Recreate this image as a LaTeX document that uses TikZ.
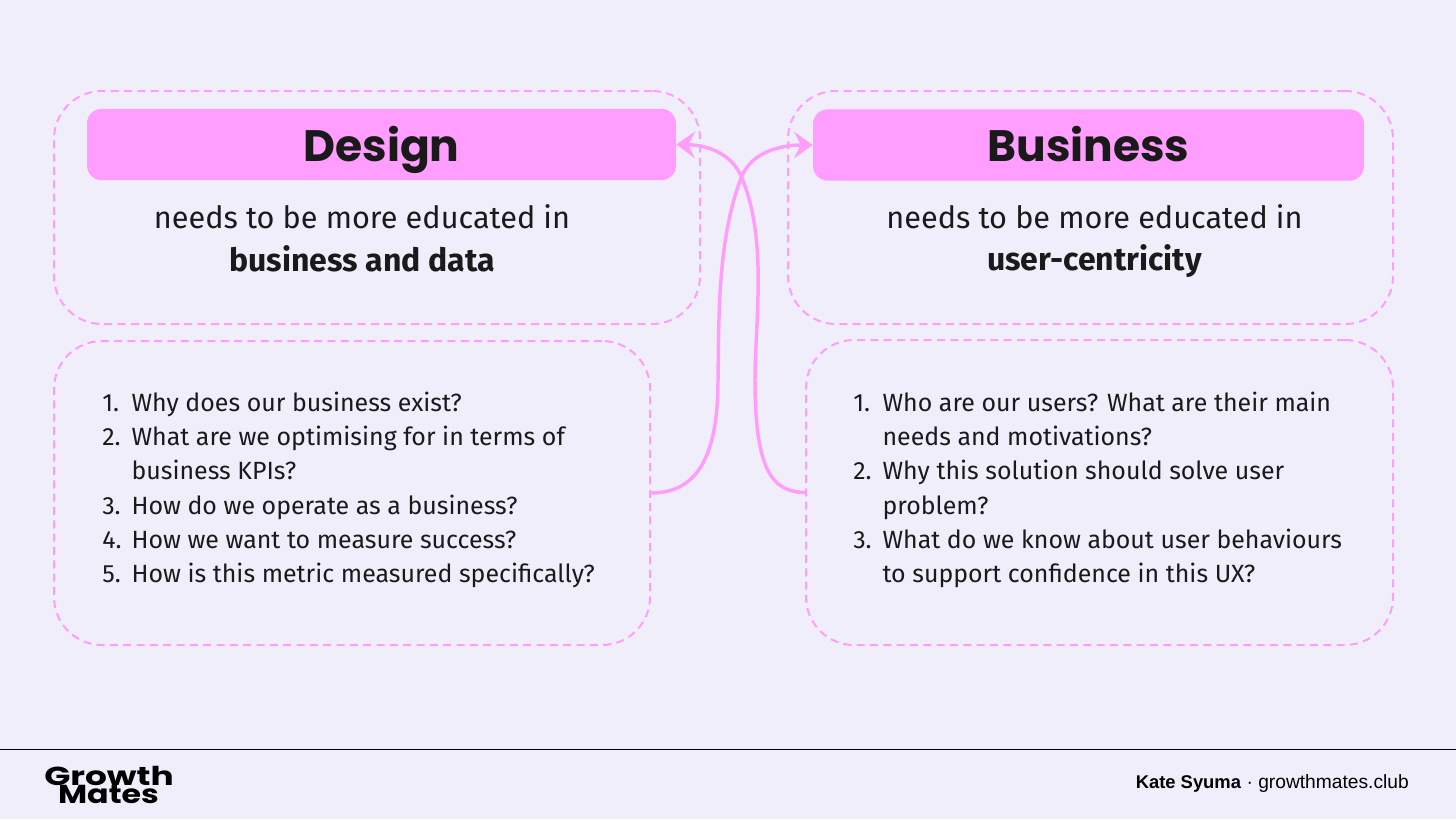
\documentclass[tikz,border=0pt]{standalone}
\usepackage{fontspec}
\setmainfont{Fira Sans}
\newfontfamily\headfont{Poppins}
\newfontfamily\footfont{Liberation Sans}
\usetikzlibrary{arrows.meta,positioning}
\definecolor{paper}{HTML}{F1EEFC}
\definecolor{pinkfill}{HTML}{FF9EFF}
\definecolor{pinkline}{HTML}{FF9EFA}
\definecolor{inkdark}{HTML}{1A1A1A}
\newcommand{\pxfont}[2]{\fontsize{#1}{#2}\selectfont}
\newcommand{\qitem}[1]{\makebox[22pt][l]{#1}}
\newcommand{\qcont}{\hspace{22pt}}
\begin{document}
\begin{tikzpicture}[x=0.75pt,y=-0.75pt,>=Stealth,
 dashbox/.style={draw=pinkline,line width=1.5pt,dash pattern=on 6pt off 4pt,
 rounded corners=36pt,inner sep=0pt},
 head/.style={fill=pinkfill,rounded corners=11pt,inner sep=0pt,minimum height=53.5pt,
 text height=30pt,text depth=5pt,text=inkdark,font=\headfont\bfseries\pxfont{33}{40}},
 edu/.style={align=center,text=inkdark,font=\pxfont{23}{32}},
 qlist/.style={align=left,anchor=north west,inner sep=0pt,text=inkdark,font=\pxfont{18.7}{25.6}},
 logo/.style={text=black,inner sep=0pt,font=\headfont\bfseries\pxfont{19.5}{20}},
 link/.style={draw=pinkline,line width=2.6pt,
 -{Stealth[length=14pt,width=20pt,inset=5pt,fill=pinkline]}}]
\useasboundingbox (0,0) rectangle (1456,819);
\fill[paper] (0,0) rectangle (1456,819);
\node[dashbox,minimum width=484.5pt,minimum height=174.75pt] (designbox) at (377,207.5) {};
\node[dashbox,minimum width=453.75pt,minimum height=174.75pt] (businessbox) at (1090.5,207.5) {};
\node[dashbox,minimum width=447pt,minimum height=228pt] (designq) at (352,493) {};
\node[dashbox,minimum width=440.25pt,minimum height=228.75pt] (businessq) at (1099.5,492.5) {};
\node[head,minimum width=441.75pt] (design) at (381.5,144.5) {Design};
\node[head,minimum width=413.25pt] (business) at (1088.5,145) {Business};
\node[edu] (designedu) at (362,238) {needs to be more educated in\\\textbf{\pxfont{24}{32}business and data}};
\node[edu] (businessedu) at (1094.5,241) {needs to be more educated in\\\textbf{\pxfont{24}{32}user-centricity}};
\node[qlist] (designlist) at (102,392) {\qitem{1.}Why does our business exist?\\
\qitem{2.}What are we optimising for in terms of\\
\qcont business KPIs?\\
\qitem{3.}How do we operate as a business?\\
\qitem{4.}How we want to measure success?\\
\qitem{5.}How is this metric measured specifically?};
\node[qlist] (businesslist) at (853,392) {\qitem{1.}Who are our users? What are their main\\
\qcont needs and motivations?\\
\qitem{2.}Why this solution should solve user\\
\qcont problem?\\
\qitem{3.}What do we know about user behaviours\\
\qcont to support confidence in this UX?};
\draw[link] (designq.east) .. controls (695,493) and (718,460) .. (718,380)
 .. controls (719,320) and (717,240) .. (741.5,177) .. controls (752,150) and (785,145) .. (business.west);
\draw[link] (businessq.west) .. controls (772,492) and (755,470) .. (755,380)
 .. controls (755,320) and (768,240) .. (741.5,177) .. controls (731,152) and (705,145) .. (design.east);
\draw[black,line width=0.75pt] (0,749.5) -- (1456,749.5);
\node[logo] (growth) at (109,776) {\scalebox{1.32}[1]{Growth}};
\node[logo] (mates) at (108.5,794) {\scalebox{1.22}[1]{Mates}};
\node[anchor=east,inner sep=0pt,text=black,font=\footfont\pxfont{14.4}{16}] (credit) at (1409,784)
 {\textbf{\pxfont{13.8}{16}Kate Syuma} · growthmates.club};
\end{tikzpicture}
\end{document}
